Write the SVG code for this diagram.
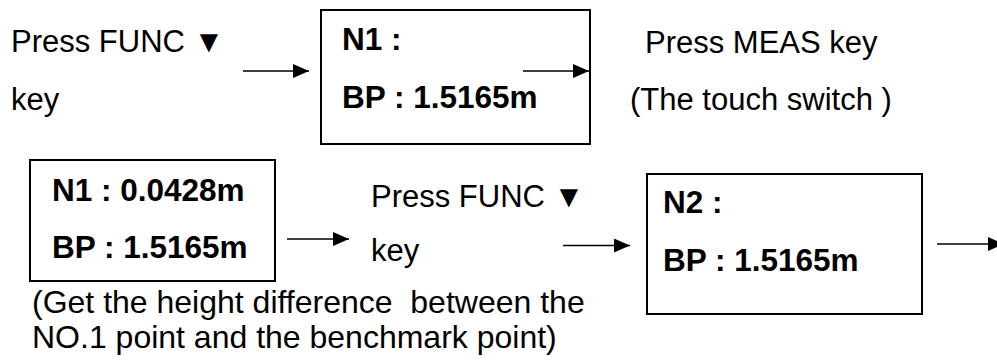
<svg xmlns="http://www.w3.org/2000/svg" width="997" height="364" viewBox="0 0 997 364">
<style>
.t{font-family:"Liberation Sans",Arial,sans-serif;font-size:31px;fill:#000}
.n{font-family:"Liberation Sans",Arial,sans-serif;font-size:32px;fill:#000;white-space:pre}
.b{font-family:"Liberation Sans",Arial,sans-serif;font-size:31.5px;font-weight:bold;fill:#000}
.box{fill:#fff;stroke:#000;stroke-width:2}
.c{stroke:#000;stroke-width:1.5;fill:none;marker-end:url(#ah)}
</style>
<defs>
<marker id="ah" markerUnits="userSpaceOnUse" markerWidth="16" markerHeight="14" refX="16" refY="7" orient="auto">
<path d="M0,0 L16,7 L0,14 z" fill="#000"/>
</marker>
</defs>
<g id="label1">
<text class="t" x="11" y="52">Press FUNC ▼</text>
<text class="t" x="11" y="110">key</text>
</g>
<g id="box1">
<rect class="box" x="321" y="10" width="269" height="134"/>
<text class="b" x="342" y="50">N1 :</text>
<text class="b" x="342" y="108">BP : 1.5165m</text>
</g>
<g id="label2">
<text class="t" x="645" y="53">Press MEAS key</text>
<text class="t" x="630" y="110">(The touch switch )</text>
</g>
<g id="box2">
<rect class="box" x="30" y="160" width="245" height="121"/>
<text class="b" x="52" y="201">N1 : 0.0428m</text>
<text class="b" x="52" y="258">BP : 1.5165m</text>
</g>
<g id="label3">
<text class="t" x="371" y="207">Press FUNC ▼</text>
<text class="t" x="371" y="261">key</text>
</g>
<g id="note">
<text class="n" x="32" y="313">(Get the height difference  between the</text>
<text class="n" x="32" y="348">NO.1 point and the benchmark point)</text>
</g>
<g id="box3">
<rect class="box" x="647" y="174" width="275" height="140"/>
<text class="b" x="663" y="213">N2 :</text>
<text class="b" x="663" y="271">BP : 1.5165m</text>
</g>
<g id="connectors">
<line class="c" x1="243" y1="71" x2="309" y2="71"/>
<line class="c" x1="523" y1="71" x2="589" y2="71"/>
<line class="c" x1="287" y1="239" x2="349" y2="239"/>
<line class="c" x1="563" y1="245.5" x2="630" y2="245.5"/>
<line class="c" x1="937" y1="244" x2="1004" y2="244"/>
</g>
</svg>
